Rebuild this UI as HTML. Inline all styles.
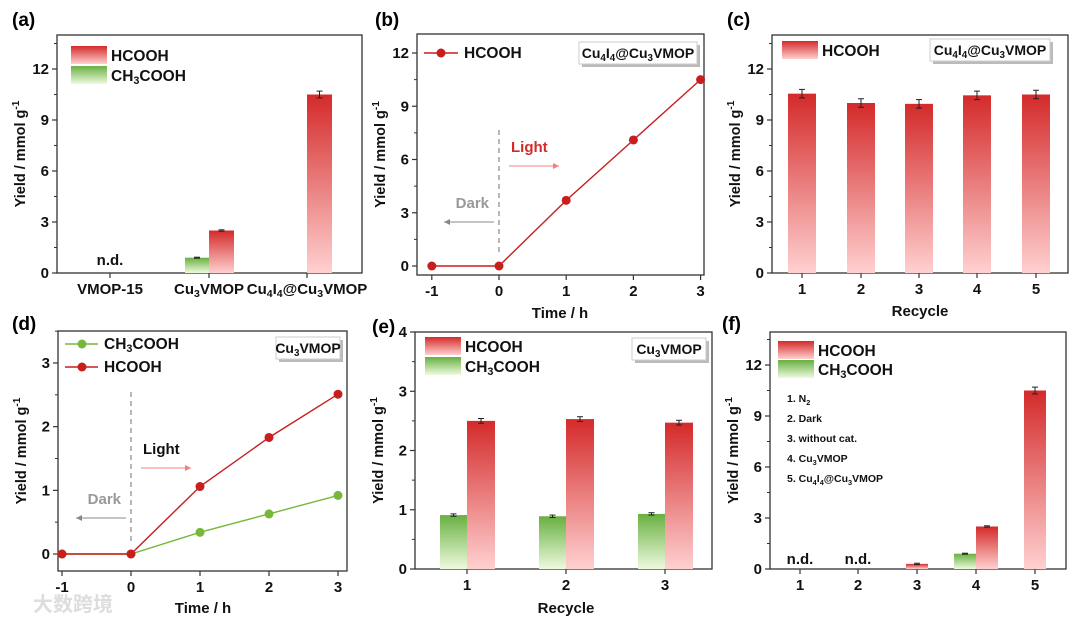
<!DOCTYPE html>
<html><head><meta charset="utf-8"><style>
body{margin:0;background:#fff}
svg{display:block;font-family:"Liberation Sans",Arial,sans-serif;font-weight:bold}
</style></head><body>
<svg id="fig" width="1080" height="624" viewBox="0 0 1080 624" xmlns="http://www.w3.org/2000/svg">
<defs>
<linearGradient id="gR" x1="0" y1="0" x2="0" y2="1"><stop offset="0" stop-color="#d42a2a"/><stop offset="1" stop-color="#ffd0d0"/></linearGradient>
<linearGradient id="gG" x1="0" y1="0" x2="0" y2="1"><stop offset="0" stop-color="#68b040"/><stop offset="1" stop-color="#eefadf"/></linearGradient>
</defs>
</svg>
<script>
// ---- data ----
const aCats = ["VMOP-15","Cu3VMOP","Cu4I4@Cu3VMOP"];
const aHCOOH = [0, 2.5, 10.5];
const aCH3 = [0, 0.9, 0];
const bTime = [-1, 0, 1, 2, 3];
const bHCOOH = [0, 0, 3.7, 7.1, 10.5];
const cCats = ["1","2","3","4","5"];
const cHCOOH = [10.55, 10.0, 9.95, 10.45, 10.5];
const cErr = [0.25, 0.25, 0.25, 0.25, 0.25];
const dTime = [-1, 0, 1, 2, 3];
const dCH3 = [0, 0, 0.34, 0.63, 0.92];
const dHCOOH = [0, 0, 1.06, 1.83, 2.51];
const eCats = ["1","2","3"];
const eHCOOH = [2.5, 2.53, 2.47];
const eCH3 = [0.91, 0.89, 0.93];
const fCats = ["1","2","3","4","5"];
const fHCOOH = [0, 0, 0.3, 2.5, 10.5];
const fCH3 = [0, 0, 0, 0.9, 0];
const ticks12 = [0,3,6,9,12];
const ticks3 = [0,1,2,3];
const ticks4 = [0,1,2,3,4];
const timeTicks = [-1,0,1,2,3];

const svg = document.getElementById('fig');
const NS = "http://www.w3.org/2000/svg";
function mk(tag, at, parent){const e=document.createElementNS(NS,tag);for(const k in at)e.setAttribute(k,at[k]);(parent||svg).appendChild(e);return e;}
function txt(s, x, y, size, anchor, fill, parent){const t=mk('text',{x:x,y:y,'font-size':size,'text-anchor':anchor||'middle',fill:fill||'#111'},parent);t.innerHTML=s;return t;}
const s = v=>'<tspan font-size="70%" dy="3">'+v+'</tspan>';
const r = v=>'<tspan dy="-3">'+v+'</tspan>';
const CU3 = 'Cu'+s('3')+r('VMOP');
const CU4 = 'Cu'+s('4')+r('I')+s('4')+r('@Cu')+s('3')+r('VMOP');
const CH3 = 'CH'+s('3')+r('COOH');

function panel(name, L, R, T, B, y0px, ymax, ymaxPx, yt, minorStep){
  const g = mk('g',{});
  
  
  const sy = v => y0px + (ymaxPx - y0px) * v / ymax;
  const fr = mk('rect',{x:L,y:T,width:R-L,height:B-T,fill:'none',stroke:'#333','stroke-width':1.3},g);
  
  
  for(const v of yt){
    mk('line',{x1:L-5,x2:L,y1:sy(v),y2:sy(v),stroke:'#333','stroke-width':1.2},g);
    const t = txt(String(v), L-8, sy(v)+5, 15, 'end', '#111', g);
    
    
  }
  for(let v=minorStep; sy(v)>T; v+=minorStep){ if(Math.abs(v/ (yt[1]-yt[0]) - Math.round(v/(yt[1]-yt[0])))>0.01) mk('line',{x1:L-3,x2:L,y1:sy(v),y2:sy(v),stroke:'#333','stroke-width':1},g);}
  const yl = txt('Yield / mmol g<tspan font-size="0.7em" dy="-6">-1</tspan>', 0, 0, 14.5, 'middle', '#111', g);
  yl.setAttribute('transform','translate('+(L-32)+','+((T+B)/2)+') rotate(-90)');
  
  
  return {g, sy};
}
function xticks(p, name, xs, labels, B, size){
  xs.forEach((x,i)=>{
    mk('line',{x1:x,x2:x,y1:B,y2:B+5,stroke:'#333','stroke-width':1.2},p.g);
    const t = txt(labels[i], x, B+21, size||15, 'middle', '#111', p.g);
    
    
  });
}
function bar(p, name, x, w, v, fill, err){
  const y = p.sy(v), y0 = p.sy(0);
  const rr = mk('rect',{x:x,y:y,width:w,height:y0-y,fill:fill},p.g);
  
  
  if(err){
    const cx=x+w/2;
    mk('line',{x1:cx,x2:cx,y1:p.sy(v-err),y2:p.sy(v+err),stroke:'#222','stroke-width':1},p.g);
    mk('line',{x1:cx-3,x2:cx+3,y1:p.sy(v+err),y2:p.sy(v+err),stroke:'#222','stroke-width':1},p.g);
    mk('line',{x1:cx-3,x2:cx+3,y1:p.sy(v-err),y2:p.sy(v-err),stroke:'#222','stroke-width':1},p.g);
  }
}
function legendBar(p, name, x, y, fill, label){
  const rr = mk('rect',{x:x,y:y,width:36,height:18,fill:fill},p.g);
  
  
  txt(label, x+40, y+15, 15.5, 'start', '#111', p.g);
}
function tag(p, name, x, y, w, label){
  mk('rect',{x:x+3,y:y+3,width:w,height:22,fill:'#bbb'},p.g);
  const rr = mk('rect',{x:x,y:y,width:w,height:22,fill:'#fff',stroke:'#ccc'},p.g);
  
  
  txt(label, x+w/2, y+16, 14, 'middle', '#111', p.g);
}
function plabel(t0,x,y){const t=txt(t0,x,y,19,'start','#000');}
function poly(p, name, xs, ys, sx, color, marker){
  const pts = xs.map((x,i)=>sx(x)+','+p.sy(ys[i])).join(' ');
  const l = mk('polyline',{points:pts,fill:'none',stroke:color,'stroke-width':1.4},p.g);
  
  
  xs.forEach((x,i)=>{
    const c = mk('circle',{cx:sx(x),cy:p.sy(ys[i]),r:marker||4.5,fill:color},p.g);
    
    
  });
}
function darkLight(p, sx0, T, B, yLight, yDark, lightColor){
  const l = mk('line',{x1:sx0,x2:sx0,y1:T,y2:B,stroke:'#888','stroke-width':1.2,'stroke-dasharray':'5,4'},p.g);
  
  
  txt('Light', sx0+12, yLight, 15, 'start', lightColor, p.g);
  mk('line',{x1:sx0+10,x2:sx0+60,y1:yLight+14,y2:yLight+14,stroke:'#f08080','stroke-width':1},p.g);
  mk('path',{d:'M'+(sx0+60)+','+(yLight+14)+' l-6,-3 v6z',fill:'#f08080'},p.g);
  txt('Dark', sx0-10, yDark, 15, 'end', '#999', p.g);
  mk('line',{x1:sx0-5,x2:sx0-55,y1:yDark+14,y2:yDark+14,stroke:'#888','stroke-width':1},p.g);
  mk('path',{d:'M'+(sx0-55)+','+(yDark+14)+' l6,-3 v6z',fill:'#888'},p.g);
}

// (a)
plabel('(a)',12,26);
{const p = panel('panel-a',57,362,35,273,273,12,69,ticks12,1.5);
 const xs=[110,209,307];
 xticks(p,'panel-a',xs,['VMOP-15',CU3,CU4],273,15);
 aCats.forEach((c,i)=>{ if(aCH3[i]>0) bar(p,'bar-a-ch3cooh-'+i,xs[i]-24,24,aCH3[i],'url(#gG)',0.03);
   if(aHCOOH[i]>0) bar(p,'bar-a-hcooh-'+i,xs[i],25,aHCOOH[i],'url(#gR)',aHCOOH[i]>5?0.2:0.04);
   if(aHCOOH[i]===0&&aCH3[i]===0) txt('n.d.',xs[i],265,15,'middle','#111',p.g);});
 legendBar(p,'legend-a-hcooh',71,46,'url(#gR)','HCOOH');
 legendBar(p,'legend-a-ch3cooh',71,66,'url(#gG)',CH3);
}
// (b)
plabel('(b)',375,26);
{const p = panel('panel-b',417,704,34,275,266,12,53,ticks12,1.5);
 const sx = v=>499+(v)*67.2;
 xticks(p,'panel-b',timeTicks.map(sx),timeTicks.map(String),275,15);
 const xt=txt('Time / h',560,318,15,'middle','#111',p.g);
 
 darkLight(p,sx(0),130,255,152,208,'#d42a2a');
 poly(p,'series-b-hcooh',bTime,bHCOOH,sx,'#c81e1e',4.5);
 mk('line',{x1:424,x2:458,y1:53,y2:53,stroke:'#c81e1e','stroke-width':1.4},p.g);
 mk('circle',{cx:441,cy:53,r:4.5,fill:'#c81e1e'},p.g);
 txt('HCOOH',464,58,15.5,'start','#111',p.g);
 tag(p,'panel-b-sample-tag',579,42,118,CU4);
}
// (c)
plabel('(c)',727,26);
{const p = panel('panel-c',772,1068,35,273,273,12,69,ticks12,1.5);
 const xs=[802,861,919,977,1036];
 xticks(p,'panel-c',xs,cCats,273,15);
 const xt=txt('Recycle',920,316,15,'middle','#111',p.g);
 
 cHCOOH.forEach((v,i)=>bar(p,'bar-c-'+cCats[i],xs[i]-14,28,v,'url(#gR)',cErr[i]));
 legendBar(p,'legend-c-hcooh',782,41,'url(#gR)','HCOOH');
 tag(p,'panel-c-sample-tag',930,39,120,CU4);
}
// (d)
plabel('(d)',12,330);
{const p = panel('panel-d',58,347,331,571,554,3,363,ticks3,0.5);
 const sx = v=>131+v*69;
 xticks(p,'panel-d',timeTicks.map(sx),timeTicks.map(String),571,15);
 const xt=txt('Time / h',203,613,15,'middle','#111',p.g);
 
 darkLight(p,sx(0),392,545,454,504,'#111');
 poly(p,'series-d-ch3cooh',dTime,dCH3,sx,'#77b83a',4.5);
 poly(p,'series-d-hcooh',dTime,dHCOOH,sx,'#c81e1e',4.5);
 mk('line',{x1:65,x2:98,y1:344,y2:344,stroke:'#77b83a','stroke-width':1.4},p.g);
 mk('circle',{cx:82,cy:344,r:4.5,fill:'#77b83a'},p.g);
 txt(CH3,104,349,15.5,'start','#111',p.g);
 mk('line',{x1:65,x2:98,y1:367,y2:367,stroke:'#c81e1e','stroke-width':1.4},p.g);
 mk('circle',{cx:82,cy:367,r:4.5,fill:'#c81e1e'},p.g);
 txt('HCOOH',104,372,15.5,'start','#111',p.g);
 tag(p,'panel-d-sample-tag',276,337,64,CU3);
 const wm=txt('大数跨境',33,611,20,'start','#ddd');
 wm.setAttribute('font-family','"Noto Sans CJK SC",sans-serif');
 
}
// (e)
plabel('(e)',372,333);
{const p = panel('panel-e',415,712,332,569,569,4,332,ticks4,0.5);
 const xs=[467,566,665];
 xticks(p,'panel-e',xs,eCats,569,15);
 const xt=txt('Recycle',566,613,15,'middle','#111',p.g);
 
 eCats.forEach((c,i)=>{bar(p,'bar-e-ch3cooh-'+c,xs[i]-27,27,eCH3[i],'url(#gG)',0.02);
   bar(p,'bar-e-hcooh-'+c,xs[i],28,eHCOOH[i],'url(#gR)',0.04);});
 legendBar(p,'legend-e-hcooh',425,337,'url(#gR)','HCOOH');
 legendBar(p,'legend-e-ch3cooh',425,357,'url(#gG)',CH3);
 tag(p,'panel-e-sample-tag',632,338,74,CU3);
}
// (f)
plabel('(f)',722,330);
{const p = panel('panel-f',770,1066,332,569,569,12,365,ticks12,1.5);
 const xs=[800,858,917,976,1035];
 xticks(p,'panel-f',xs,fCats,569,15);
 fCats.forEach((c,i)=>{ if(fCH3[i]>0) bar(p,'bar-f-ch3cooh-'+c,xs[i]-22,22,fCH3[i],'url(#gG)',0.03);
   if(fHCOOH[i]>0) bar(p,'bar-f-hcooh-'+c,fCH3[i]>0?xs[i]:xs[i]-11,22,fHCOOH[i],'url(#gR)',fHCOOH[i]>5?0.2:0.04);
   if(fHCOOH[i]===0&&fCH3[i]===0) txt('n.d.',xs[i],564,15,'middle','#111',p.g);});
 legendBar(p,'legend-f-hcooh',778,341,'url(#gR)','HCOOH');
 legendBar(p,'legend-f-ch3cooh',778,360,'url(#gG)',CH3);
 const notes=['1. N'+s('2'),'2. Dark','3. without cat.','4. '+CU3,'5. '+CU4];
 notes.forEach((n,i)=>{const t=txt(n,787,402+i*20,10.5,'start','#111',p.g);
   });
}
</script>
</body></html>
